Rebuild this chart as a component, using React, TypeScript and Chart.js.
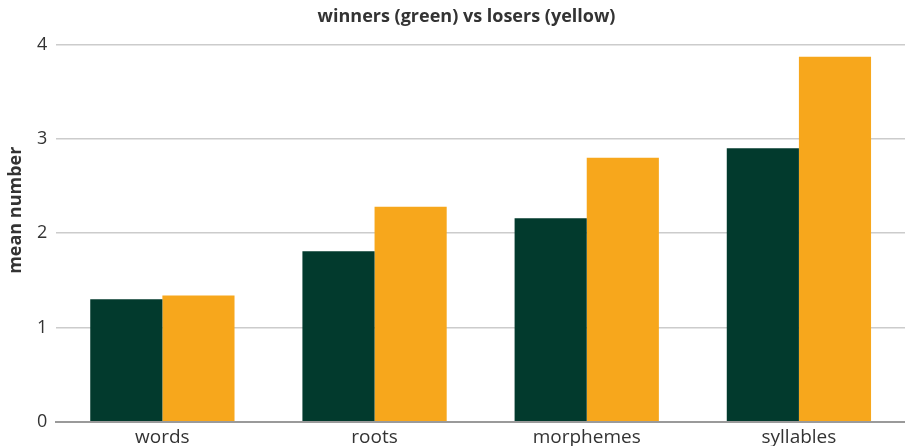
import React, { useEffect, useRef } from "react";
import { Chart, registerables } from "chart.js";

Chart.register(...registerables);

const categories = ["words", "roots", "morphemes", "syllables"];
const winners = [1.3, 1.81, 2.16, 2.9];
const losers = [1.34, 2.28, 2.8, 3.87];
const yTicks = [0, 1, 2, 3, 4];

const GREEN = "#023a2d";
const ORANGE = "#f7a71c";
const FONT = "'Open Sans', 'Noto Sans', sans-serif";
const Y_TITLE = "mean number";

// Vertical axis caption, drawn a little above the plot's middle.
const yTitlePlugin = {
  id: "yTitle",
  afterDraw(chart: any) {
    const { ctx, chartArea } = chart;
    const cy = (chartArea.top + chartArea.bottom) / 2 - 23;
    ctx.save();
    ctx.translate(16, cy);
    ctx.rotate(-Math.PI / 2);
    ctx.font = `bold 18px ${FONT}`;
    ctx.fillStyle = "#333";
    ctx.textAlign = "center";
    ctx.textBaseline = "middle";
    ctx.fillText(Y_TITLE, 0, 0);
    ctx.restore();
  },
};

export default function App() {
  const ref = useRef<HTMLCanvasElement | null>(null);

  useEffect(() => {
    document.body.style.margin = "0";
    const canvas = ref.current;
    if (!canvas) return;
    const chart = new Chart(canvas, {
      type: "bar",
      data: {
        labels: categories,
        datasets: [
          { label: "winners", data: winners, backgroundColor: GREEN, borderWidth: 0 },
          { label: "losers", data: losers, backgroundColor: ORANGE, borderWidth: 0 },
        ],
      },
      plugins: [yTitlePlugin],
      options: {
        animation: false,
        responsive: false,
        layout: { padding: { top: 0, right: 0, bottom: 0, left: 28 } },
        datasets: {
          bar: { barPercentage: 1, categoryPercentage: 0.68 },
        },
        plugins: {
          legend: { display: false },
          tooltip: { enabled: false },
          title: {
            display: true,
            text: "winners (green) vs losers (yellow)",
            color: "#333",
            font: { family: FONT, size: 18, weight: "bold" },
            padding: { top: 6, bottom: 17 },
          },
        },
        scales: {
          x: {
            grid: { display: false },
            border: { display: true, color: "#9a9a9a", width: 2 },
            ticks: {
              color: "#333",
              font: { family: FONT, size: 19, lineHeight: 0.85 },
              padding: 0,
            },
          },
          y: {
            min: 0,
            max: 4,
            afterBuildTicks: (axis: any) => {
              axis.ticks = yTicks.map((v) => ({ value: v }));
            },
            grid: { color: "#cccccc", lineWidth: 1.5, drawTicks: false },
            border: { display: false },
            ticks: {
              color: "#333",
              font: { family: FONT, size: 18 },
              padding: 9,
            },
            title: { display: false, text: Y_TITLE },
          },
        },
      },
    });
    return () => chart.destroy();
  }, []);

  return (
    <div style={{ width: 905, height: 446, background: "#fff" }}>
      <canvas ref={ref} width={905} height={446} />
    </div>
  );
}
